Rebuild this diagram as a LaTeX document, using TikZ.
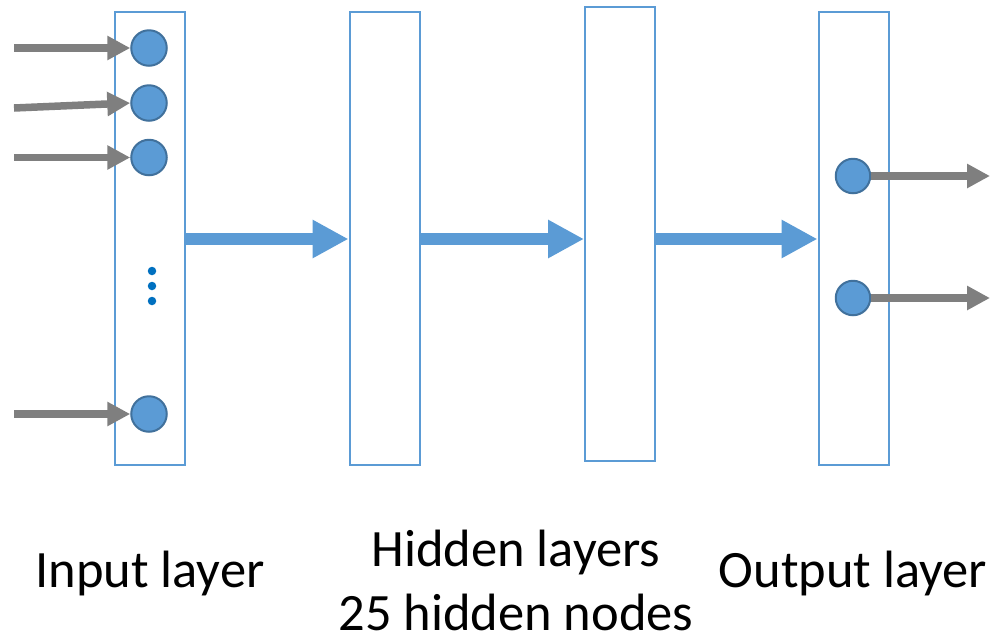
\documentclass[tikz,border=0pt]{standalone}
\usepackage{fontspec}
\setmainfont{Carlito}
\usetikzlibrary{arrows.meta}
\definecolor{layerblue}{HTML}{5B9BD5}
\definecolor{circedge}{HTML}{41719C}
\definecolor{arrgray}{HTML}{7F7F7F}
\definecolor{dotblue}{HTML}{0070C0}
\tikzset{
  layerbox/.style={draw=layerblue, line width=2pt, fill=white, inner sep=0pt, minimum width=70pt, minimum height=453pt},
  neuron/.style={circle, draw=circedge, fill=layerblue, line width=2pt, inner sep=0pt, minimum size=35.5pt},
  grayarrow/.style={draw=arrgray, line width=7.5pt, -{Triangle[length=23pt,width=23pt]}},
  bluearrow/.style={draw=layerblue, line width=12pt, -{Triangle[length=36pt,width=36pt]}},
  vdot/.style={circle, fill=dotblue, inner sep=0pt, minimum size=8.5pt},
  label/.style={font=\fontsize{52.5}{64}\selectfont, align=center, inner sep=0pt}
}
\begin{document}
\begin{tikzpicture}[x=1pt,y=-1pt]
\useasboundingbox (0,0) rectangle (997,641);
% layers
\node[layerbox] (inl) at (150,238.5) {};
\node[layerbox] (h1) at (384.5,238.5) {};
\node[layerbox, minimum height=454pt] (h2) at (620,234) {};
\node[layerbox] (outl) at (853.5,238.5) {};
% input neurons
\node[neuron] (i1) at (149,48) {};
\node[neuron] (i2) at (149,103) {};
\node[neuron] (i3) at (149,157.5) {};
\node[neuron] (i4) at (149,414) {};
\node[vdot] (d1) at (152,271) {};
\node[vdot] (d2) at (152,286) {};
\node[vdot] (d3) at (152,301) {};
% output neurons
\node[neuron, minimum size=34.5pt] (o1) at (853,176) {};
\node[neuron, minimum size=34.5pt] (o2) at (853,298) {};
% input arrows
\coordinate (s1) at (14,48);
\coordinate (s2) at (14,108);
\coordinate (s3) at (14,157.5);
\coordinate (s4) at (14,414);
\draw[grayarrow] (s1) -- (i1.west);
\draw[grayarrow] (s2) -- (i2.west);
\draw[grayarrow] (s3) -- (i3.west);
\draw[grayarrow] (s4) -- (i4.west);
% output arrows
\coordinate (e1) at (990,176);
\coordinate (e2) at (990,298);
\draw[grayarrow] (o1.east) -- (e1);
\draw[grayarrow] (o2.east) -- (e2);
% layer arrows
\coordinate (a1) at (186,239);
\coordinate (a2) at (420,239);
\coordinate (a3) at (656,239);
\draw[bluearrow] (a1) -- (a1 -| h1.west);
\draw[bluearrow] (a2) -- (a2 -| h2.west);
\draw[bluearrow] (a3) -- (a3 -| outl.west);
% labels
\node[label, anchor=base] (lin) at (150,587) {Input layer};
\node[label, anchor=base, text depth=0pt] (lhid) at (516,630) {Hidden layers\\25 hidden nodes};
\node[label, anchor=base] (lout) at (853,587) {Output layer};
\end{tikzpicture}
\end{document}
